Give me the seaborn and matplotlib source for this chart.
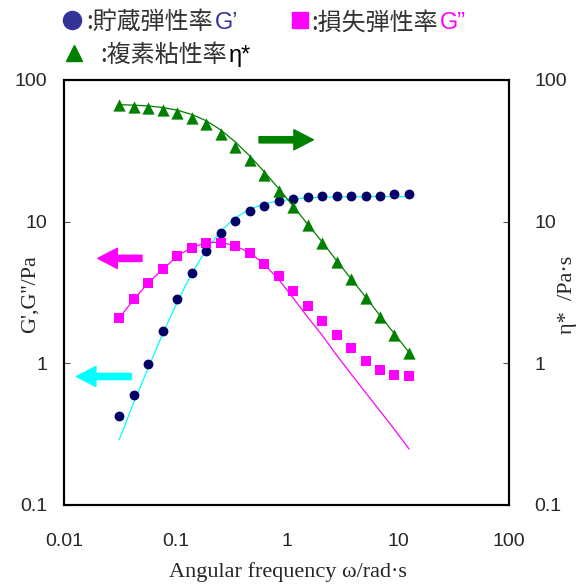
import pandas as pd
import matplotlib
matplotlib.use('Agg')
import matplotlib.pyplot as plt
from matplotlib.lines import Line2D
from matplotlib.ticker import FixedLocator, NullLocator
import seaborn as sns

# angular frequency (rad/s)
omega = [0.0314, 0.0424, 0.0572, 0.0772, 0.104, 0.140, 0.190, 0.256, 0.345, 0.466,
         0.628, 0.848, 1.14, 1.54, 2.08, 2.81, 3.79, 5.12, 6.90, 9.31, 12.6]

# measured points
g_storage = [0.425, 0.601, 0.984, 1.69, 2.83, 4.36, 6.16, 8.36, 10.1, 11.9, 12.9,
             14.0, 14.4, 14.8, 15.2, 15.2, 15.2, 15.2, 15.2, 15.6, 15.6]
g_loss = [2.09, 2.82, 3.70, 4.59, 5.70, 6.55, 7.11, 7.11, 6.73, 6.04, 5.00,
          4.12, 3.22, 2.53, 1.98, 1.59, 1.28, 1.03, 0.902, 0.831, 0.810]
eta_complex = [66.6, 64.8, 63.1, 61.4, 58.2, 53.7, 48.7, 41.4, 33.8, 27.2, 21.3,
               16.5, 12.6, 9.47, 7.03, 5.21, 3.96, 2.88, 2.13, 1.58, 1.18]

# fitted curves
g_storage_fit = [0.29, 0.53, 0.93, 1.62, 2.70, 4.28, 6.32, 8.55, 10.6, 12.2, 13.3,
                 14.0, 14.4, 14.7, 14.8, 14.9, 14.95, 15.0, 15.0, 15.0, 15.0]
g_loss_fit = [2.09, 2.82, 3.70, 4.59, 5.70, 6.55, 7.11, 7.15, 6.73, 6.04, 5.00,
              3.90, 2.90, 2.12, 1.58, 1.14, 0.84, 0.62, 0.46, 0.34, 0.248]
eta_fit = [66.8, 66.3, 65.4, 63.8, 61.1, 57.0, 51.4, 44.3, 36.5, 29.1, 22.5,
           17.1, 12.9, 9.6, 7.2, 5.3, 3.95, 2.93, 2.17, 1.61, 1.19]

x_ticks = [0.01, 0.1, 1, 10, 100]
x_tick_labels = ['0.01', '0.1', '1', '10', '100']
y_ticks = [0.1, 1, 10, 100]
y_tick_labels = ['0.1', '1', '10', '100']

df = pd.DataFrame({'omega': omega, 'Gp': g_storage, 'Gpp': g_loss, 'eta': eta_complex,
                   'Gp_fit': g_storage_fit, 'Gpp_fit': g_loss_fit, 'eta_fit': eta_fit})

sns.set_style('white')
plt.rcParams['font.family'] = ['Liberation Sans', 'DejaVu Sans']

fig = plt.figure(figsize=(5.82, 5.85), dpi=100)
ax = fig.add_axes([0.110, 0.137, 0.765, 0.7265])
ax2 = ax.twinx()

# left axis: G', G''
sns.lineplot(data=df, x='omega', y='Gp_fit', color='#00ffff', lw=0.9, ax=ax)
sns.lineplot(data=df, x='omega', y='Gpp_fit', color='#ff00ff', lw=0.9, ax=ax)
sns.scatterplot(data=df, x='omega', y='Gp', marker='o', s=50, color='#000066',
                linewidth=0, ax=ax, zorder=3)
sns.scatterplot(data=df, x='omega', y='Gpp', marker='s', s=42, color='#ff00ff',
                linewidth=0, ax=ax, zorder=3)

# right axis: eta*
sns.lineplot(data=df, x='omega', y='eta_fit', color='#008000', lw=0.9, ax=ax2)
sns.scatterplot(data=df, x='omega', y='eta', marker='^', s=78, color='#008000',
                linewidth=0, ax=ax2, zorder=3)

for a in (ax, ax2):
    a.set_xscale('log')
    a.set_yscale('log')
    a.set_xlim(0.01, 100)
    a.set_ylim(0.1, 100)
    a.xaxis.set_major_locator(FixedLocator(x_ticks))
    a.yaxis.set_major_locator(FixedLocator(y_ticks))
    a.xaxis.set_minor_locator(NullLocator())
    a.yaxis.set_minor_locator(NullLocator())
    for sp in a.spines.values():
        sp.set_visible(True)
        sp.set_color('black')
        sp.set_linewidth(1.5)

ax.set_xticklabels(x_tick_labels)
ax.set_yticklabels(y_tick_labels)
ax2.set_yticklabels(y_tick_labels)
ax.tick_params(axis='x', direction='in', length=4, width=0.8, color='#555555',
               pad=20, labelsize=14, top=False)
ax.tick_params(axis='y', direction='in', length=4, width=0.8, color='#555555',
               pad=12, labelsize=14, right=False)
ax2.tick_params(axis='y', direction='in', length=4, width=0.8, color='#555555',
                pad=18, labelsize=14, left=False)
ax2.tick_params(axis='x', bottom=False, top=False, labelbottom=False)

serif = ['Liberation Serif', 'DejaVu Serif']
ax.set_xlabel('Angular frequency ω/rad·s', family=serif, fontsize=16, va='center')
ax.xaxis.set_label_coords(0.503, -0.158)
ax.set_ylabel("G',G''/Pa", family=serif, fontsize=16, va='center')
ax.yaxis.set_label_coords(-0.076, 0.495)
ax2.set_ylabel('η*  /Pa·s', family=serif, fontsize=16, va='center', rotation=90)
ax2.yaxis.set_label_coords(1.130, 0.494)

# arrows pointing to each axis
arrow = 'simple,head_length=1.4,head_width=1.45,tail_width=0.45'
for tail, tip, col in [((0.438, 0.859), (0.560, 0.859), '#008000'),
                       ((0.175, 0.580), (0.076, 0.580), '#ff00ff'),
                       ((0.151, 0.302), (0.028, 0.302), '#00ffff')]:
    ax2.annotate('', xy=tip, xytext=tail, xycoords='axes fraction',
                 arrowprops=dict(arrowstyle=arrow, color=col, shrinkA=0, shrinkB=0,
                                 mutation_scale=10))

# legend drawn above the plot
cjk = ['Noto Sans CJK JP', 'DejaVu Sans']
fig.add_artist(Line2D([0.1237], [0.9658], marker='o', markersize=13, color='#333399',
                      linestyle='none'))
fig.add_artist(Line2D([0.5155], [0.9658], marker='s', markersize=11, color='#ff00ff',
                      linestyle='none'))
fig.add_artist(Line2D([0.127], [0.909], marker='^', markersize=12, color='#008000',
                      linestyle='none'))

legend_rows = [(0.148, 0.950, ':貯蔵弾性率', 'G’', '#333399'),
               (0.535, 0.950, ':損失弾性率', 'G”', '#ff00ff'),
               (0.172, 0.894, ':複素粘性率', 'η*', 'black')]
fig.canvas.draw()
renderer = fig.canvas.get_renderer()
for x, y, label, sym, col in legend_rows:
    t = fig.text(x, y, label, family=cjk, fontsize=17.3, color='#333333', va='baseline')
    bb = t.get_window_extent(renderer)
    fig.text(bb.x1 / fig.bbox.width + 0.003, y, sym, fontsize=17, color=col,
             va='baseline')

fig.savefig('out.png', dpi=100)
